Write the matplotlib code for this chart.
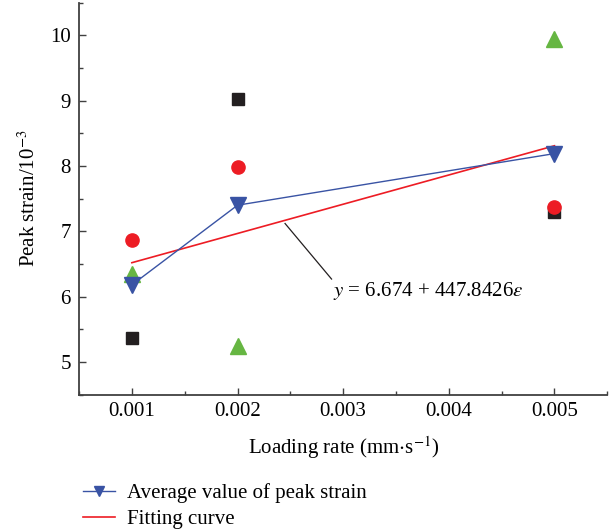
import matplotlib
matplotlib.use("Agg")
import matplotlib.pyplot as plt
from matplotlib.ticker import MultipleLocator
from matplotlib.lines import Line2D

plt.rcParams['font.family'] = ['Liberation Serif', 'DejaVu Serif']
plt.rcParams['mathtext.fontset'] = 'stix'
plt.rcParams['font.size'] = 15

# loading rate (mm/s)
rates = [0.001, 0.002, 0.005]
# peak strain of each specimen (10^-3)
strain_a = [5.37, 9.03, 7.30]   # black squares
strain_b = [6.87, 7.98, 7.38]   # red circles
strain_c = [6.35, 5.24, 9.95]   # green triangles
strain_avg = [6.18, 7.40, 8.19]
# fitted line as drawn
fit_x = [0.001, 0.005]
fit_y = [6.52, 8.31]
eq_text = "$y$ = 6.674 + 447.8426$\\varepsilon$"

fig = plt.figure(figsize=(6.15, 5.31), dpi=100)
ax = fig.add_axes([0.1285, 0.2567, 0.859, 0.7383])

ax.plot(rates, strain_a, 's', color='#231f20', ms=8.5, zorder=3)
ax.plot(rates, strain_b, 'o', color='#ed1c24', ms=9.5, zorder=4)
ax.plot(rates, strain_c, '^', color='#66b642', ms=11, zorder=4)
ax.plot(fit_x, fit_y, '-', color='#ed1c24', lw=1.2, zorder=5)
ax.plot(rates, strain_avg, '-v', color='#3953a4', lw=1.0, ms=11, zorder=6)

# label for the fitting curve
ax.plot([0.00245, 0.00289], [7.12, 6.27], '-', color='#231f20', lw=0.9)
ax.text(0.00290, 6.09, eq_text, va='center', ha='left')

ax.set_xlim(0.0005, 0.0055)
ax.set_ylim(4.5, 10.5)
ax.xaxis.set_major_locator(MultipleLocator(0.001))
ax.xaxis.set_minor_locator(MultipleLocator(0.0005))
ax.yaxis.set_major_locator(MultipleLocator(1))
ax.yaxis.set_minor_locator(MultipleLocator(0.5))
ax.xaxis.set_major_formatter(plt.FuncFormatter(lambda v, p: "%.3f" % v))

for s in ['top', 'right']:
    ax.spines[s].set_visible(False)
for s in ['left', 'bottom']:
    ax.spines[s].set_color('#404040')
    ax.spines[s].set_linewidth(1.3)
ax.tick_params(which='major', direction='in', length=5, width=1.0, color='#404040')
ax.tick_params(which='minor', direction='in', length=3, width=1.0, color='#404040')
ax.tick_params(axis='x', pad=5)
ax.tick_params(axis='y', pad=6)

ax.set_xlabel("Loading rate (mm$\\cdot$s$^{-1}$)", labelpad=10)
ax.set_ylabel("Peak strain/10$^{-3}$", labelpad=7)

handles = [Line2D([], [], color='#3953a4', lw=1.0, marker='v', ms=7),
           Line2D([], [], color='#ed1c24', lw=1.2)]
labels = ["Average value of peak strain", "Fitting curve"]
fig.legend(handles, labels, loc='upper left', bbox_to_anchor=(0.135, 0.09),
           frameon=False, handlelength=1.55, handletextpad=0.55, labelspacing=0.3,
           borderaxespad=0, borderpad=0)

fig.savefig("out.png", dpi=100)
